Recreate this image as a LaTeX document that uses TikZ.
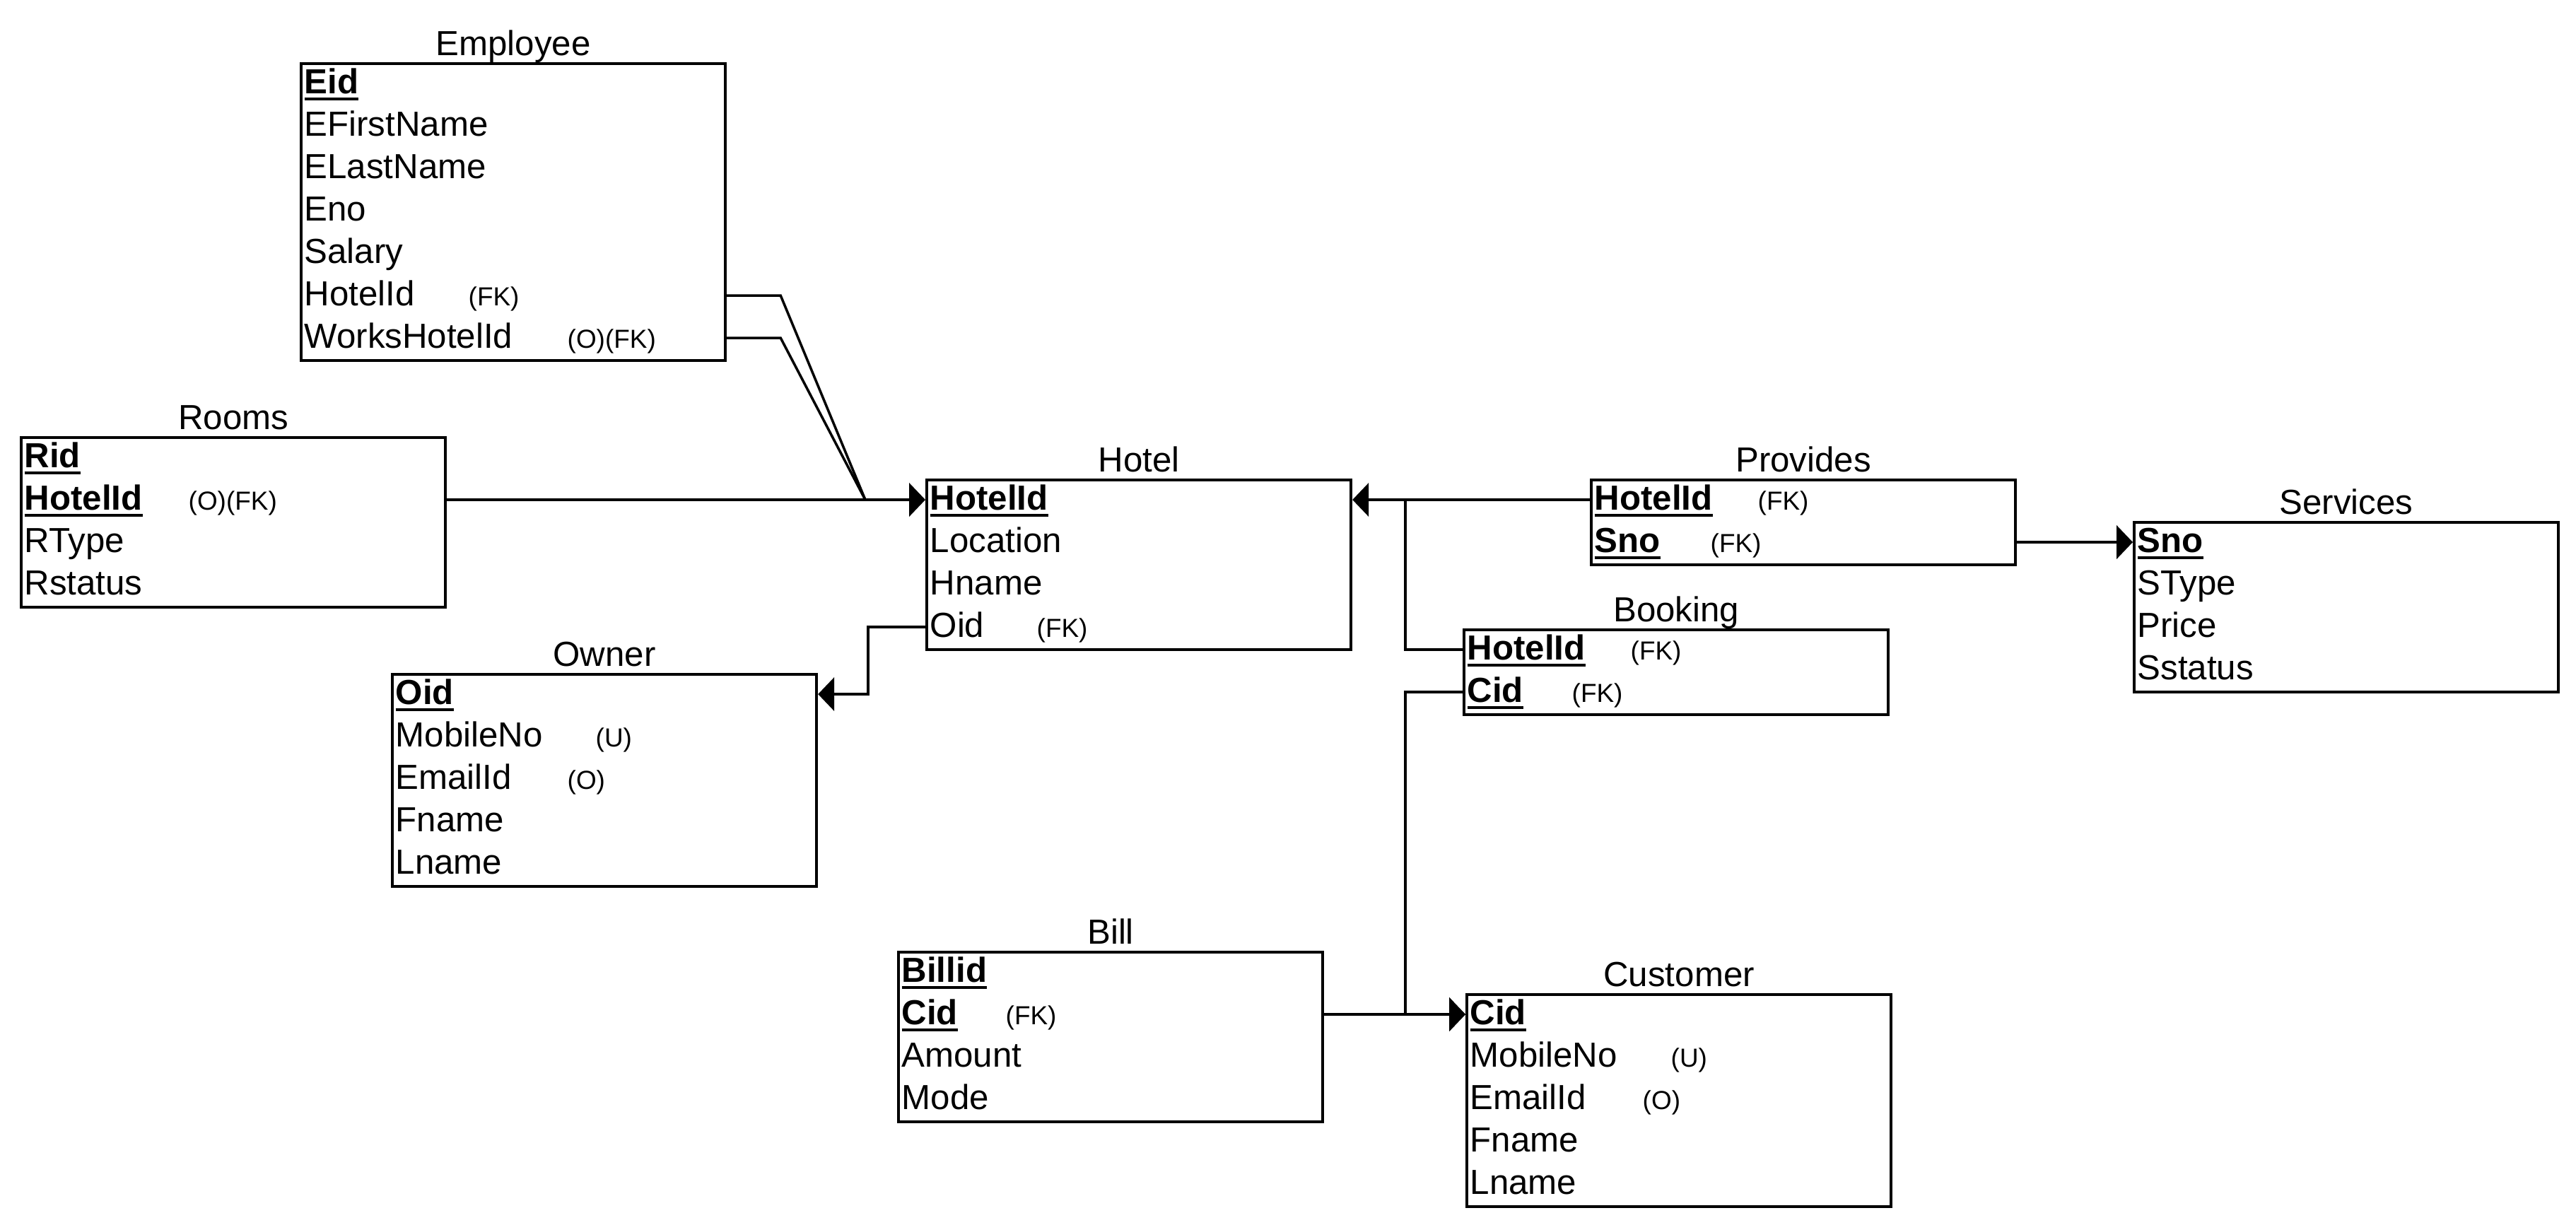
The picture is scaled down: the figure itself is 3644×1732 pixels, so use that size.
\documentclass[tikz,border=0pt]{standalone}
\usepackage{fontspec}
\setmainfont{Liberation Sans}
\usetikzlibrary{arrows.meta,calc}
\newcommand\pkey[1]{\setbox0\hbox{\bfseries #1}\rlap{\copy0}\rule[-2.7pt]{\wd0}{1.1pt}}
\begin{document}
\begin{tikzpicture}[x=0.01cm,y=-0.01cm,
 tbl/.style={draw,line width=1.1pt,minimum width=6cm,inner sep=0pt,anchor=north west},
 ttl/.style={font=\fontsize{14}{16}\selectfont,anchor=base,inner sep=0pt},
 fld/.style={font=\fontsize{14}{16}\selectfont,anchor=base west,inner sep=0pt},
 ann/.style={font=\fontsize{10.5}{12}\selectfont,anchor=base west,inner sep=0pt},
 conn/.style={line width=1pt},
 arr/.style={conn,-{Triangle[length=6.5pt,width=13.4pt]}}]
\useasboundingbox (0,0) rectangle (3644,1732);

% ---------- tables ----------
\node[tbl,minimum height=4.2cm] (emp) at (424,88) {};
\node[ttl] (emp-t) at ($(emp.north)+(0,-10)$) {Employee};
\foreach \i/\t in {1/{\pkey{Eid}},2/EFirstName,3/ELastName,4/Eno,5/Salary,6/HotelId,7/WorksHotelId}
  \node[fld] (emp-\i) at ($(emp.north west)+(6,{44+60*(\i-1)})$) {\t};
\node[ann] (emp-a6) at ($(emp.north west)+(238,344)$) {(FK)};
\node[ann] (emp-a7) at ($(emp.north west)+(378,404)$) {(O)(FK)};

\node[tbl,minimum height=2.4cm] (rooms) at (28,617) {};
\node[ttl] (rooms-t) at ($(rooms.north)+(0,-10)$) {Rooms};
\foreach \i/\t in {1/{\pkey{Rid}},2/{\pkey{HotelId}},3/RType,4/Rstatus}
  \node[fld] (rooms-\i) at ($(rooms.north west)+(6,{44+60*(\i-1)})$) {\t};
\node[ann] (rooms-a2) at ($(rooms.north west)+(238,104)$) {(O)(FK)};

\node[tbl,minimum height=2.4cm] (hotel) at (1309,677) {};
\node[ttl] (hotel-t) at ($(hotel.north)+(0,-10)$) {Hotel};
\foreach \i/\t in {1/{\pkey{HotelId}},2/Location,3/Hname,4/Oid}
  \node[fld] (hotel-\i) at ($(hotel.north west)+(6,{44+60*(\i-1)})$) {\t};
\node[ann] (hotel-a4) at ($(hotel.north west)+(157,224)$) {(FK)};

\node[tbl,minimum height=3cm] (owner) at (553,952) {};
\node[ttl] (owner-t) at ($(owner.north)+(0,-10)$) {Owner};
\foreach \i/\t in {1/{\pkey{Oid}},2/MobileNo,3/EmailId,4/Fname,5/Lname}
  \node[fld] (owner-\i) at ($(owner.north west)+(6,{44+60*(\i-1)})$) {\t};
\node[ann] (owner-a2) at ($(owner.north west)+(289,104)$) {(U)};
\node[ann] (owner-a3) at ($(owner.north west)+(249,164)$) {(O)};

\node[tbl,minimum height=1.2cm] (prov) at (2249,677) {};
\node[ttl] (prov-t) at ($(prov.north)+(0,-10)$) {Provides};
\foreach \i/\t in {1/{\pkey{HotelId}},2/{\pkey{Sno}}}
  \node[fld] (prov-\i) at ($(prov.north west)+(6,{44+60*(\i-1)})$) {\t};
\node[ann] (prov-a1) at ($(prov.north west)+(237,44)$) {(FK)};
\node[ann] (prov-a2) at ($(prov.north west)+(170,104)$) {(FK)};

\node[tbl,minimum height=2.4cm] (serv) at (3017,737) {};
\node[ttl] (serv-t) at ($(serv.north)+(0,-10)$) {Services};
\foreach \i/\t in {1/{\pkey{Sno}},2/SType,3/Price,4/Sstatus}
  \node[fld] (serv-\i) at ($(serv.north west)+(6,{44+60*(\i-1)})$) {\t};

\node[tbl,minimum height=1.2cm] (book) at (2069,889) {};
\node[ttl] (book-t) at ($(book.north)+(0,-10)$) {Booking};
\foreach \i/\t in {1/{\pkey{HotelId}},2/{\pkey{Cid}}}
  \node[fld] (book-\i) at ($(book.north west)+(6,{44+60*(\i-1)})$) {\t};
\node[ann] (book-a1) at ($(book.north west)+(237,44)$) {(FK)};
\node[ann] (book-a2) at ($(book.north west)+(154,104)$) {(FK)};

\node[tbl,minimum height=2.4cm] (bill) at (1269,1345) {};
\node[ttl] (bill-t) at ($(bill.north)+(0,-10)$) {Bill};
\foreach \i/\t in {1/{\pkey{Billid}},2/{\pkey{Cid}},3/Amount,4/Mode}
  \node[fld] (bill-\i) at ($(bill.north west)+(6,{44+60*(\i-1)})$) {\t};
\node[ann] (bill-a2) at ($(bill.north west)+(153,104)$) {(FK)};

\node[tbl,minimum height=3cm] (cust) at (2073,1405) {};
\node[ttl] (cust-t) at ($(cust.north)+(0,-10)$) {Customer};
\foreach \i/\t in {1/{\pkey{Cid}},2/MobileNo,3/EmailId,4/Fname,5/Lname}
  \node[fld] (cust-\i) at ($(cust.north west)+(6,{44+60*(\i-1)})$) {\t};
\node[ann] (cust-a2) at ($(cust.north west)+(290,104)$) {(U)};
\node[ann] (cust-a3) at ($(cust.north west)+(250,164)$) {(O)};

% ---------- ports ----------
\coordinate (emp-p6) at ($(emp.north east)+(0,330)$);
\coordinate (emp-p7) at ($(emp.north east)+(0,390)$);
\coordinate (rooms-p2) at ($(rooms.north east)+(0,90)$);
\coordinate (hotel-p1) at ($(hotel.north west)+(0,30)$);
\coordinate (hotel-pe1) at ($(hotel.north east)+(0,30)$);
\coordinate (hotel-p4) at ($(hotel.north west)+(0,210)$);
\coordinate (owner-p1) at ($(owner.north east)+(0,30)$);
\coordinate (prov-p1) at ($(prov.north west)+(0,30)$);
\coordinate (prov-p2) at ($(prov.north east)+(0,90)$);
\coordinate (serv-p1) at ($(serv.north west)+(0,30)$);
\coordinate (book-p1) at ($(book.north west)+(0,30)$);
\coordinate (book-p2) at ($(book.north west)+(0,90)$);
\coordinate (bill-p2) at ($(bill.north east)+(0,90)$);
\coordinate (cust-p1) at ($(cust.north west)+(0,30)$);
\coordinate (jE) at (1224,707);
\coordinate (jB) at (1988,707);

% ---------- connectors ----------
\draw[arr] (rooms-p2) -- (hotel-p1);
\draw[conn] (emp-p6) -- ++(76,0) -- (jE);
\draw[conn] (emp-p7) -- ++(76,0) -- (jE);
\draw[arr] (hotel-p4) -- ++(-81,0) |- (owner-p1);
\draw[arr] (prov-p1) -- (hotel-pe1);
\draw[conn] (book-p1) -| (jB);
\draw[arr] (book-p2) -- ++(-81,0) |- (cust-p1);
\draw[arr] (bill-p2) -- (cust-p1);
\draw[arr] (prov-p2) -- (serv-p1);
\end{tikzpicture}
\end{document}
